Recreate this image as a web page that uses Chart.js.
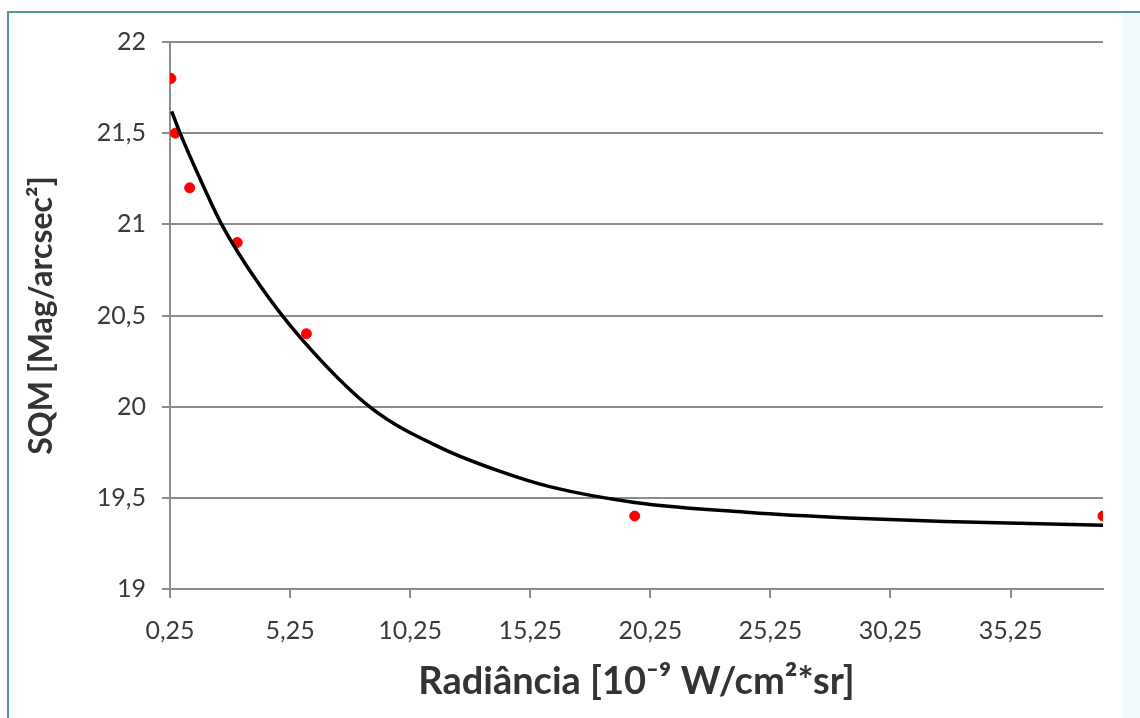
<!DOCTYPE html>
<html>
<head>
<meta charset="utf-8">
<script src="https://cdn.jsdelivr.net/npm/chart.js@4"></script>
<style>
  body { margin: 0; background: #fff; }
  #wrap { width: 1140px; height: 718px; }
</style>
</head>
<body>
<div id="wrap"><canvas id="sqmChart"></canvas></div>
<script>
// medições (pontos vermelhos)
const radX = [0.29, 0.47, 1.07, 3.05, 5.93, 19.6, 39.1];
const sqmY = [21.8, 21.5, 21.2, 20.9, 20.4, 19.4, 19.4];

// linha de tendência
const trendX = [0.32, 0.67, 1.5, 2.4, 3.86, 5.67, 8.65, 11.6, 14.0, 16.1, 19.6, 24.4, 28.5, 32.5, 39.1];
const trendY = [21.62, 21.5, 21.25, 21.0, 20.69, 20.38, 19.99, 19.77, 19.645, 19.56, 19.475, 19.42, 19.39, 19.37, 19.35];

const xTicks = [0.25, 5.25, 10.25, 15.25, 20.25, 25.25, 30.25, 35.25];
const yTicks = [19, 19.5, 20, 20.5, 21, 21.5, 22];

const comma = v => String(v).replace('.', ',');
const fam = "Lato, sans-serif";

const frame = {
  id: 'frame',
  beforeDraw(chart) {
    const c = chart.ctx;
    c.save();
    c.fillStyle = '#fff';
    c.fillRect(0, 0, chart.width, chart.height);
    c.fillStyle = '#f1fbfb';
    c.fillRect(1122, 12, chart.width - 1122, chart.height);
    c.strokeStyle = '#4f9a96';
    c.lineWidth = 2;
    c.beginPath();
    c.moveTo(8, chart.height);
    c.lineTo(8, 12);
    c.lineTo(chart.width, 12);
    c.stroke();
    c.restore();
  }
};

const ctx = document.getElementById('sqmChart').getContext('2d');

new Chart(ctx, {
  type: 'scatter',
  data: {
    datasets: [
      {
        label: 'Tendência',
        data: trendX.map((x, i) => ({ x: x, y: trendY[i] })),
        showLine: true,
        borderColor: '#000',
        borderWidth: 3.5,
        pointRadius: 0,
        cubicInterpolationMode: 'monotone',
        order: 0
      },
      {
        label: 'SQM',
        data: radX.map((x, i) => ({ x: x, y: sqmY[i] })),
        backgroundColor: 'rgb(255, 0, 0)',
        borderColor: 'rgb(255, 0, 0)',
        pointRadius: 5,
        order: 1
      }
    ]
  },
  options: {
    responsive: true,
    maintainAspectRatio: false,
    animation: false,
    layout: { padding: { top: 42, right: 37, left: 12, bottom: 0 } },
    plugins: {
      legend: { display: false },
      tooltip: { enabled: false }
    },
    scales: {
      x: {
        type: 'linear',
        min: 0.25,
        max: 39.1,
        afterBuildTicks: axis => { axis.ticks = xTicks.map(v => ({ value: v })); },
        afterFit: axis => { axis.height = 129; },
        grid: {
          drawOnChartArea: false,
          color: '#8c8c8c',
          lineWidth: 2,
          tickLength: 9
        },
        border: { color: '#8c8c8c', width: 2 },
        ticks: {
          padding: 18,
          color: '#3a3a3a',
          font: { family: fam, size: 25 },
          maxRotation: 0,
          autoSkip: false,
          callback: v => comma(v)
        },
        title: {
          display: true,
          text: 'Radiância [10⁻⁹ W/cm²*sr]',
          color: '#333',
          font: { family: fam, size: 38, weight: 'bold' },
          padding: { top: 0, bottom: 13 }
        }
      },
      y: {
        min: 19,
        max: 22,
        afterBuildTicks: axis => { axis.ticks = yTicks.map(v => ({ value: v })); },
        afterFit: axis => { axis.width = 158; },
        grid: {
          color: '#8c8c8c',
          lineWidth: 2,
          tickLength: 8
        },
        border: { color: '#8c8c8c', width: 2 },
        ticks: {
          padding: 16,
          color: '#3a3a3a',
          font: { family: fam, size: 25 },
          callback: v => comma(v)
        },
        title: {
          display: true,
          text: 'SQM [Mag/arcsec²]',
          color: '#333',
          font: { family: fam, size: 32, weight: 'bold' },
          padding: { top: 10, bottom: 0 }
        }
      }
    }
  },
  plugins: [frame]
});
</script>
</body>
</html>
